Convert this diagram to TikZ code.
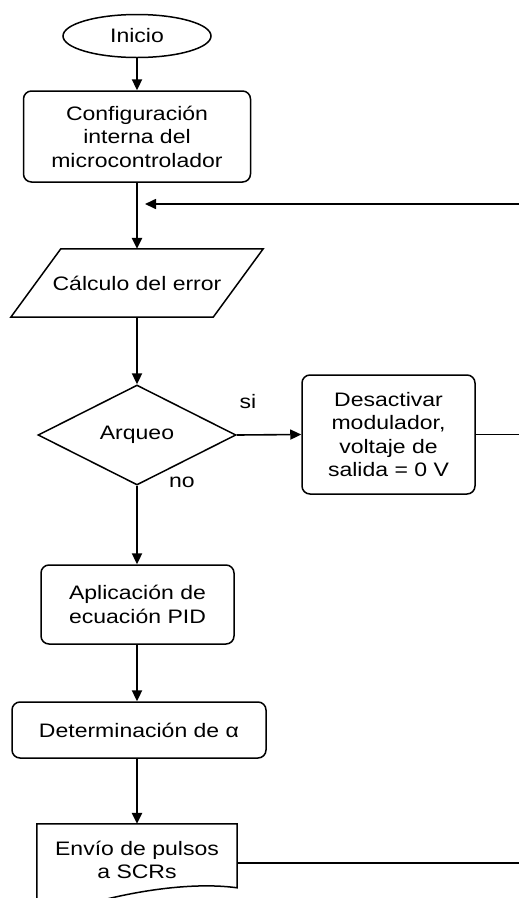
\documentclass[tikz,border=0pt]{standalone}
\usepackage{fontspec}
\setmainfont[FakeStretch=1.18]{Liberation Sans}
\usetikzlibrary{shapes.geometric,arrows.meta,calc}
\begin{document}
\begin{tikzpicture}[x=1pt,y=-1pt,
  every node/.style={font=\fontsize{19.5}{23.5}\selectfont, align=center, inner sep=0pt},
  shapeline/.style={line width=1.5pt},
  box/.style={draw, shapeline, rounded corners=8pt},
  tip/.style={-{Triangle[length=11pt,width=10pt]}},
  vconn/.style={line width=2.3pt},
  hconn/.style={line width=1.6pt}]
\useasboundingbox (0,0) rectangle (519,898);
\clip (0,0) rectangle (519,898);

\node[draw, shapeline, ellipse, minimum width=148pt, minimum height=43pt] (ini) at (137,36) {Inicio};
\node[box, minimum width=227pt, minimum height=91pt] (conf) at (137,136.5) {Configuración\\interna del\\microcontrolador};
\node[minimum width=202pt, minimum height=68pt] (calc) at (137,283) {Cálculo del error};
\draw[shapeline] ($(calc.north west)+(25,0)$) -- ($(calc.north east)+(25,0)$) -- ($(calc.south east)+(-25,0)$) -- ($(calc.south west)+(-25,0)$) -- cycle;
\node[draw, shapeline, diamond, aspect=2, minimum width=198pt, minimum height=100pt] (arq) at (137,435) {Arqueo};
\node[box, minimum width=173pt, minimum height=119pt] (des) at (388.5,434.5) {Desactivar\\modulador,\\voltaje de\\salida = 0 V};
\node[box, minimum width=193pt, minimum height=79pt] (pid) at (137.5,604.5) {Aplicación de\\ecuación PID};
\node[box, minimum width=254pt, minimum height=56pt] (det) at (139,730) {Determinación de α};
\node[minimum width=200pt, minimum height=72pt] (env) at (137,860) {Envío de pulsos\\a SCRs};
\draw[shapeline] ($(env.north west)+(0,90)$) -- (env.north west) -- (env.north east) -- ($(env.north east)+(0,64)$)
  .. controls (195,882) and (140,890) .. (95,902) .. controls (70,908) and (50,910) .. ($(env.north west)+(0,90)$);

\node (si) at (248,402) {si};
\node (no) at (182,482) {no};

\coordinate (fbR) at (519,204);
\coordinate (fbT) at (145,204);
\coordinate (desR) at (519,434.5);
\coordinate (envR) at (519,863);

\draw[vconn, tip] (ini.south) -- (ini.south |- conf.north);
\draw[vconn, tip] (conf.south) -- (conf.south |- calc.north);
\draw[hconn, tip] (fbR) -- (fbT);
\draw[vconn, tip] (conf.south |- calc.south) -- (arq.north);
\draw[hconn, tip] (arq.east) -- (des.west);
\draw[hconn] (des.east) -- (desR);
\draw[vconn, tip] (arq.south) -- (arq.south |- pid.north);
\draw[vconn, tip] (arq.south |- pid.south) -- (arq.south |- det.north);
\draw[vconn, tip] (arq.south |- det.south) -- (arq.south |- env.north);
\draw[hconn] (env.east |- envR) -- (envR);
\end{tikzpicture}
\end{document}
